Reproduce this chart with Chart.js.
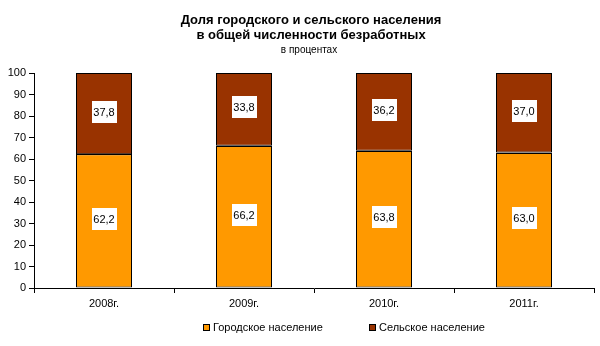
<!DOCTYPE html>
<html>
<head>
<meta charset="utf-8">
<script src="https://cdn.jsdelivr.net/npm/chart.js@4/dist/chart.umd.min.js"></script>
<style>
  html, body { margin: 0; padding: 0; background: #fff; }
  #wrap { width: 600px; height: 346px; position: relative; }
</style>
</head>
<body>
<div id="wrap"><canvas id="c" width="600" height="346"></canvas></div>
<script>
// Share of urban and rural population among the unemployed, percent
const years = ['2008г.', '2009г.', '2010г.', '2011г.'];
const urban = [62.2, 66.2, 63.8, 63.0];
const rural = [37.8, 33.8, 36.2, 37.0];
const seriesNames = ['Городское население', 'Сельское население'];
const yTicks = [0, 10, 20, 30, 40, 50, 60, 70, 80, 90, 100];
const titleLines = ['Доля городского и сельского населения', 'в общей численности безработных'];
const subtitleText = 'в процентах';

const FONT = 'Arial, "Liberation Sans", sans-serif';
const fmt = v => v.toFixed(1).replace('.', ',');

// Heading centred over the plot area
const heading = {
  id: 'heading',
  afterDraw(chart) {
    const ctx = chart.ctx;
    const a = chart.chartArea;
    const cx = (a.left + a.right) / 2 - 3;
    ctx.save();
    ctx.fillStyle = '#000';
    ctx.textAlign = 'center';
    ctx.textBaseline = 'middle';
    ctx.font = 'bold 13px ' + FONT;
    titleLines.forEach((t, i) => ctx.fillText(t, cx, 20 + i * 15));
    ctx.font = '10px ' + FONT;
    ctx.fillText(subtitleText, cx - 2, 50);
    ctx.restore();
  }
};

// Crisp black divider between the stacked segments, plus value boxes
const valueBoxes = {
  id: 'valueBoxes',
  afterDatasetsDraw(chart) {
    const ctx = chart.ctx;
    ctx.save();
    const lower = chart.getDatasetMeta(0).data;
    ctx.strokeStyle = '#000';
    ctx.lineWidth = 1;
    lower.forEach(bar => {
      const p = bar.getProps(['x', 'y', 'width'], true);
      const yy = Math.round(p.y) + 0.5;
      ctx.beginPath();
      ctx.moveTo(p.x - p.width / 2, yy);
      ctx.lineTo(p.x + p.width / 2, yy);
      ctx.stroke();
    });

    ctx.font = '11px ' + FONT;
    ctx.textAlign = 'center';
    ctx.textBaseline = 'middle';
    chart.data.datasets.forEach((ds, di) => {
      chart.getDatasetMeta(di).data.forEach((bar, i) => {
        const p = bar.getProps(['x', 'y', 'base'], true);
        const cy = Math.round((p.y + p.base) / 2);
        const w = 25, h = 22;
        ctx.fillStyle = '#fff';
        ctx.fillRect(Math.round(p.x - w / 2), cy - h / 2 - 2, w, h);
        ctx.fillStyle = '#000';
        ctx.fillText(fmt(ds.data[i]), p.x, cy - 1);
      });
    });
    ctx.restore();
  }
};

// Legend row under the axis
const bottomLegend = {
  id: 'bottomLegend',
  afterDraw(chart) {
    const ctx = chart.ctx;
    ctx.save();
    ctx.font = '11px ' + FONT;
    ctx.textBaseline = 'middle';
    const y = 328;
    const starts = [203, 369];
    chart.data.datasets.forEach((ds, di) => {
      const x = starts[di];
      ctx.fillStyle = ds.backgroundColor;
      ctx.fillRect(x + 0.5, y - 3.5, 6, 6);
      ctx.strokeStyle = '#000';
      ctx.lineWidth = 1;
      ctx.strokeRect(x + 0.5, y - 3.5, 6, 6);
      ctx.fillStyle = '#000';
      ctx.textAlign = 'left';
      ctx.fillText(ds.label, x + 10, y);
    });
    ctx.restore();
  }
};

new Chart(document.getElementById('c'), {
  type: 'bar',
  data: {
    labels: years,
    datasets: [
      { label: seriesNames[0], data: urban, backgroundColor: '#FF9900', borderColor: '#000', borderWidth: 1, borderSkipped: false },
      { label: seriesNames[1], data: rural, backgroundColor: '#993300', borderColor: '#000', borderWidth: 1, borderSkipped: false }
    ]
  },
  options: {
    responsive: false,
    animation: false,
    devicePixelRatio: 1,
    layout: { padding: { top: 73, right: 6, bottom: 0, left: 0 } },
    datasets: { bar: { categoryPercentage: 1, barPercentage: 0.4 } },
    plugins: {
      legend: { display: false },
      tooltip: { enabled: false },
      title: { display: false }
    },
    scales: {
      x: {
        stacked: true,
        offset: true,
        grid: { display: true, offset: true, drawOnChartArea: false, drawTicks: true, tickLength: 5, color: '#000' },
        border: { display: true, color: '#000' },
        ticks: { color: '#000', font: { family: FONT, size: 11 }, padding: 4 },
        afterFit(s) { s.height = 58; }
      },
      y: {
        stacked: true,
        min: 0,
        max: 100,
        afterBuildTicks(s) { s.ticks = yTicks.map(v => ({ value: v })); },
        grid: { display: true, drawOnChartArea: false, drawTicks: true, tickLength: 5, color: '#000' },
        border: { display: true, color: '#000' },
        ticks: { color: '#000', font: { family: FONT, size: 11 }, padding: 3 },
        afterFit(s) { s.width = 34; }
      }
    }
  },
  plugins: [heading, valueBoxes, bottomLegend]
});
</script>
</body>
</html>
